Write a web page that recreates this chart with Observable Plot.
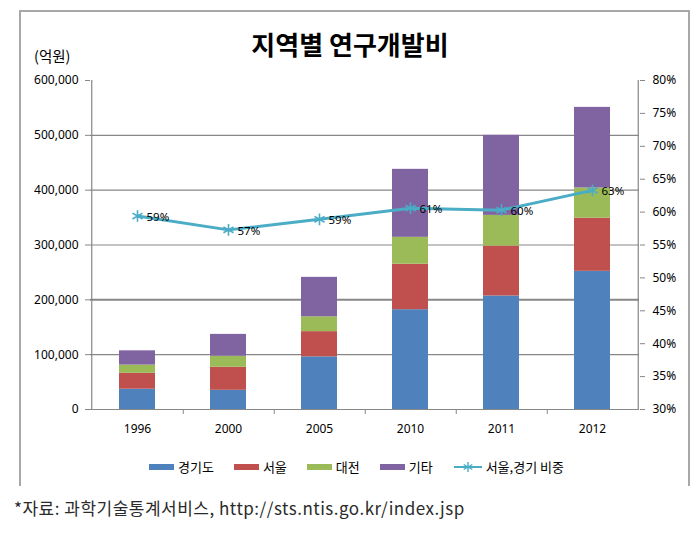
<!DOCTYPE html>
<html>
<head>
<meta charset="utf-8">
<script src="https://cdn.jsdelivr.net/npm/d3@7"></script>
<script src="https://cdn.jsdelivr.net/npm/@observablehq/plot@0.6"></script>
<style>
  body { margin: 0; background: #fff; }
  #wrap { position: relative; width: 700px; height: 536px; overflow: hidden; font-family: "Noto Sans CJK KR", "Noto Sans", sans-serif; }
  #frame { position: absolute; left: 19px; top: 10px; width: 671px; height: 476px; border: 2px solid #a8a8a8; border-bottom: none; box-sizing: border-box; }
  #title { position: absolute; left: 0; top: 27px; width: 700px; text-align: center; font-size: 26px; font-weight: bold; line-height: 34px; color: #000; }
  #unit { position: absolute; left: 34px; top: 46px; font-size: 14.5px; line-height: 20px; color: #000; }
  #chart { position: absolute; left: 0; top: 0; }
  #legend { position: absolute; left: 149px; top: 458px; display: flex; align-items: center; font-size: 13px; line-height: 18px; color: #000; }
  .item { display: flex; align-items: center; margin-right: 20px; }
  .sw { width: 25px; height: 6px; margin-right: 4px; }
  #caption { position: absolute; left: 14px; top: 496px; font-size: 17px; letter-spacing: 0.5px; line-height: 24px; color: #2a2a2a; }
</style>
</head>
<body>
<div id="wrap">
  <div id="frame"></div>
  <div id="title">지역별 연구개발비</div>
  <div id="unit">(억원)</div>
  <div id="chart"></div>
  <div id="legend"></div>
  <div id="caption">*자료: 과학기술통계서비스, http://sts.ntis.go.kr/index.jsp</div>
</div>
<script>
const years = ["1996", "2000", "2005", "2010", "2011", "2012"];
const series = ["경기도", "서울", "대전", "기타"];
const colors = ["#4f81bd", "#c0504d", "#9bbb59", "#8064a2"];
const gyeonggi = [37000, 35000, 96000, 182000, 207000, 252000];
const seoul = [29000, 42000, 46000, 83000, 91000, 97000];
const daejeon = [15000, 20000, 27000, 49000, 56000, 55000];
const others = [26000, 40000, 72000, 124000, 146000, 147000];
const lineName = "서울,경기 비중";
const share = [59.4, 57.3, 58.9, 60.6, 60.3, 63.3];
const shareLabels = ["59%", "57%", "59%", "61%", "60%", "63%"];
const leftTicks = [0, 100000, 200000, 300000, 400000, 500000, 600000];
const gridTicks = [100000, 200000, 300000, 400000, 500000];
const rightTicks = [30, 35, 40, 45, 50, 55, 60, 65, 70, 75, 80];
const lineColor = "#4bacc6";

const valuesBySeries = [gyeonggi, seoul, daejeon, others];
const rows = [];
years.forEach((y, i) => {
  series.forEach((s, k) => rows.push({ year: y, series: s, value: valuesBySeries[k][i] }));
});
const pctMin = rightTicks[0], pctMax = rightTicks[rightTicks.length - 1];
const yMax = leftTicks[leftTicks.length - 1];
const toLeft = p => (p - pctMin) / (pctMax - pctMin) * yMax;
const fromLeft = v => pctMin + v / yMax * (pctMax - pctMin);
const lineData = years.map((y, i) => ({ year: y, v: toLeft(share[i]), label: shareLabels[i] }));

const W = 700, H = 480;
const mL = 90, mR = 61, mT = 80, mB = 71;
const step = (W - mL - mR) / years.length;
const gray = "#878787";

const chart = Plot.plot({
  width: W, height: H,
  marginLeft: mL, marginRight: mR, marginTop: mT, marginBottom: mB,
  style: { fontFamily: "'Noto Sans', 'Noto Sans CJK KR', sans-serif", fontSize: "12px", color: "#000", background: "transparent" },
  x: { domain: years, paddingInner: 0.6, paddingOuter: 0.3, axis: null },
  y: { domain: [0, yMax], axis: null },
  color: { domain: series, range: colors },
  marks: [
    Plot.ruleY(gridTicks, { stroke: gray, strokeWidth: d => d === 200000 ? 2 : 1.2 }),
    Plot.barY(rows, { x: "year", y: "value", fill: "series" }),
    Plot.ruleY([0], { stroke: gray, strokeWidth: 1.2 }),
    Plot.ruleX([years[0]], { dx: -step / 2, y1: 0, y2: yMax, stroke: gray, strokeWidth: 1.2 }),
    Plot.ruleX([years[years.length - 1]], { dx: step / 2, y1: 0, y2: yMax, stroke: gray, strokeWidth: 1.2 }),
    Plot.axisY(leftTicks, { anchor: "left", label: null, tickSize: 5, tickPadding: 7, stroke: gray, fontSize: 12, tickFormat: d => d3.format(",")(d) }),
    Plot.axisY(rightTicks.map(toLeft), { anchor: "right", label: null, tickSize: 5, tickPadding: 8, stroke: gray, fontSize: 12, tickFormat: d => Math.round(fromLeft(d)) + "%" }),
    Plot.axisX(years.slice(0, -1), { tickSize: 5, dx: step / 2, stroke: gray, text: null, label: null }),
    Plot.axisX(years, { tickSize: 0, tickPadding: 15, fontSize: 12, label: null }),
    Plot.line(lineData, { x: "year", y: "v", stroke: lineColor, strokeWidth: 3 }),
    Plot.dot(lineData, { x: "year", y: "v", symbol: "asterisk", r: 5.5, stroke: lineColor, strokeWidth: 1.6 }),
    Plot.text(lineData, { x: "year", y: "v", text: "label", textAnchor: "start", dx: 9, dy: 1, fill: "#000", fontSize: 11.5 })
  ]
});
document.getElementById("chart").appendChild(chart);

const legend = document.getElementById("legend");
series.forEach((s, k) => {
  const it = document.createElement("div");
  it.className = "item";
  const sw = document.createElement("div");
  sw.className = "sw";
  sw.style.background = colors[k];
  it.appendChild(sw);
  const t = document.createElement("span");
  t.textContent = s;
  it.appendChild(t);
  legend.appendChild(it);
});
const li = document.createElement("div");
li.className = "item";
li.innerHTML = `<svg width="30" height="12" style="margin-right:3px"><line x1="1" y1="6" x2="29" y2="6" stroke="${lineColor}" stroke-width="2"/>` +
  `<g stroke="${lineColor}" stroke-width="1.4"><line x1="15" y1="1" x2="15" y2="11"/><line x1="10.7" y1="3.5" x2="19.3" y2="8.5"/><line x1="10.7" y1="8.5" x2="19.3" y2="3.5"/></g></svg>`;
const lt = document.createElement("span");
lt.textContent = lineName;
li.appendChild(lt);
legend.appendChild(li);
</script>
</body>
</html>
